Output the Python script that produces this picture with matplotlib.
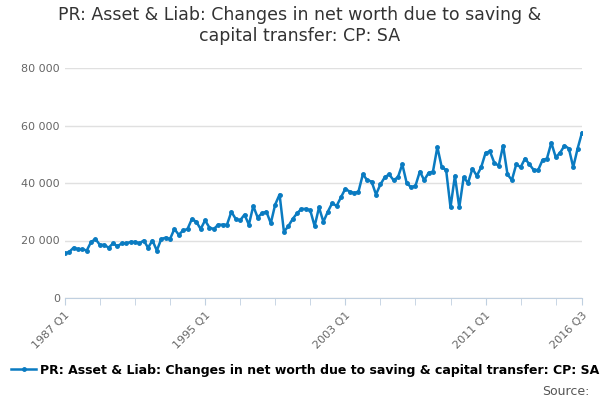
import matplotlib.pyplot as plt
import numpy as np

values = [
    15.5, 16, 17.5, 17,
    17, 16.5, 19.5, 20.5,
    18.5, 18.5, 17.5, 19,
    18, 19, 19, 19.5,
    19.5, 19, 20, 17.5,
    20, 16.5, 20.5, 21,
    20.5, 24, 22, 23.5,
    24, 27.5, 26.5, 24,
    27, 24.5, 24, 25.5,
    25.5, 25.5, 30, 27.5,
    27, 29, 25.5, 32,
    28, 29.5, 30, 26,
    32.5, 36, 23, 25,
    27.5, 29.5, 31, 31,
    30.5, 25, 31.5, 26.5,
    30, 33, 32, 35,
    38, 37, 36.5, 37,
    43, 41, 40.5, 36,
    39.5, 42, 43, 41,
    42, 46.5, 40, 38.5,
    39, 44, 41, 43.5,
    44, 52.5, 45.5, 44.5,
    31.5, 42.5, 31.5, 42,
    40, 45, 42.5, 45.5,
    50.5, 51, 47, 46,
    53, 43, 41, 46.5,
    45.5, 48.5, 46.5, 44.5,
    44.5, 48, 48.5, 54,
    49, 50.5, 53, 52,
    45.5, 52, 57.5,
]
values = np.array(values) * 1000
tick_pos = [0, 32, 64, 96, 118]
tick_labels = ["1987 Q1", "1995 Q1", "2003 Q1", "2011 Q1", "2016 Q3"]
title = "PR: Asset & Liab: Changes in net worth due to saving &\ncapital transfer: CP: SA"
series_name = "PR: Asset & Liab: Changes in net worth due to saving & capital transfer: CP: SA"

fig = plt.figure(figsize=(6, 4), dpi=100)
ax = fig.add_axes([0.108, 0.255, 0.862, 0.575])
x = np.arange(len(values))
ax.plot(x, values, color="#0a7bc1", lw=1.8, marker="o", ms=2.5, label=series_name)
ax.set_ylim(0, 80000)
ax.set_yticks(range(0, 80001, 20000))
ax.set_yticklabels([f"{v:,}".replace(",", " ") for v in range(0, 80001, 20000)])
ax.set_xlim(0, 118)
ax.set_xticks(tick_pos)
ax.set_xticklabels(tick_labels, rotation=45, ha="right", rotation_mode="anchor")
ax.set_xticks(list(range(0, 118, 8)), minor=True)
ax.grid(axis="y", color="#e0e0e0", lw=1)
ax.set_axisbelow(True)
for s in ["top", "right", "left"]:
    ax.spines[s].set_visible(False)
ax.spines["bottom"].set_color("#c0d0e0")
ax.tick_params(axis="y", length=0, labelsize=8, colors="#666666")
ax.tick_params(axis="x", which="both", length=5, color="#c0d0e0", labelsize=8, labelcolor="#666666")
fig.suptitle(title, y=0.985, fontsize=12.5, color="#333333")
fig.legend(loc="lower left", bbox_to_anchor=(0.0, 0.03), frameon=False, fontsize=9,
           handlelength=2, handletextpad=0.3, prop={"weight": "bold", "size": 9})
fig.text(0.983, 0.012, "Source:", ha="right", fontsize=9, color="#555555")
fig.savefig("out.png")
